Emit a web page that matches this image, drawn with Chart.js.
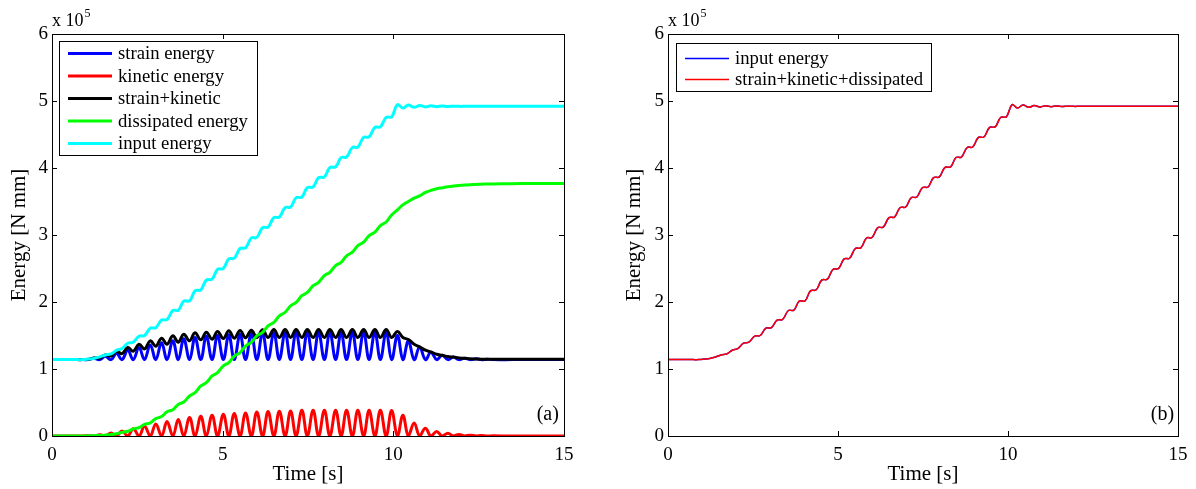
<!DOCTYPE html>
<html>
<head>
<meta charset="utf-8">
<script src="https://cdn.jsdelivr.net/npm/chart.js@4.4.1/dist/chart.umd.min.js"></script>
<style>
  html, body { margin: 0; padding: 0; background: #fff; }
  #wrap { position: relative; width: 1196px; height: 489px; overflow: hidden; }
  canvas { position: absolute; top: 0; }
  #chartA { left: 0; }
  #chartB { left: 600px; }
</style>
</head>
<body>
<div id="wrap">
  <canvas id="chartA" width="600" height="489"></canvas>
  <canvas id="chartB" width="596" height="489"></canvas>
</div>
<script>
// time [s]
const time = [0, 0.25, 0.41, 0.57, 0.74, 0.90, 1.07, 1.23, 1.40, 1.56,
  1.73, 1.89, 2.05, 2.22, 2.38, 2.55, 2.71, 2.88, 3.04, 3.21,
  3.37, 3.54, 3.70, 3.86, 4.03, 4.19, 4.36, 4.52, 4.69, 4.85,
  5.02, 5.18, 5.34, 5.51, 5.67, 5.84, 6.00, 6.17, 6.33, 6.50,
  6.66, 6.83, 6.99, 7.15, 7.32, 7.48, 7.65, 7.81, 7.98, 8.14,
  8.31, 8.47, 8.63, 8.80, 8.96, 9.13, 9.29, 9.46, 9.62, 9.79,
  9.95, 10.12, 10.28, 10.44, 10.61, 10.77, 10.94, 11.10, 11.27, 11.43,
  11.60, 11.76, 11.92, 12.09, 12.25, 12.42, 12.58, 12.75, 12.91, 13.5,
  14.0, 14.5, 15.0];

// energies, in units of 10^5 N mm
const strainEnergy = [1.14, 1.14, 1.14, 1.14, 1.14, 1.14, 1.14, 1.16, 1.14, 1.19,
  1.14, 1.235, 1.14, 1.28, 1.14, 1.32, 1.14, 1.36, 1.14, 1.39,
  1.14, 1.42, 1.14, 1.45, 1.14, 1.47, 1.14, 1.49, 1.14, 1.50,
  1.14, 1.51, 1.14, 1.52, 1.14, 1.53, 1.14, 1.535, 1.14, 1.54,
  1.14, 1.545, 1.14, 1.55, 1.14, 1.55, 1.14, 1.55, 1.14, 1.55,
  1.14, 1.55, 1.14, 1.55, 1.14, 1.55, 1.14, 1.55, 1.14, 1.55,
  1.14, 1.50, 1.14, 1.42, 1.14, 1.33, 1.14, 1.25, 1.14, 1.205,
  1.14, 1.178, 1.14, 1.162, 1.14, 1.153, 1.14, 1.147, 1.14, 1.14,
  1.14, 1.14, 1.14];

const kineticEnergy = [0, 0, 0, 0, 0, 0, 0.005, 0, 0.02, 0,
  0.045, 0, 0.075, 0, 0.11, 0, 0.145, 0, 0.18, 0,
  0.215, 0, 0.245, 0, 0.275, 0, 0.295, 0, 0.31, 0,
  0.325, 0, 0.335, 0, 0.345, 0, 0.36, 0, 0.365, 0,
  0.37, 0, 0.375, 0, 0.385, 0, 0.385, 0, 0.385, 0,
  0.385, 0, 0.385, 0, 0.385, 0, 0.385, 0, 0.385, 0,
  0.38, 0, 0.31, 0, 0.195, 0, 0.115, 0, 0.068, 0,
  0.042, 0, 0.024, 0, 0.013, 0, 0.007, 0, 0.003, 0,
  0, 0, 0];

const strainKinetic = [1.14, 1.14, 1.14, 1.14, 1.14, 1.14, 1.145, 1.165, 1.165, 1.21,
  1.195, 1.265, 1.23, 1.32, 1.265, 1.37, 1.30, 1.42, 1.34, 1.46,
  1.37, 1.495, 1.40, 1.52, 1.42, 1.54, 1.435, 1.55, 1.445, 1.56,
  1.455, 1.57, 1.46, 1.575, 1.465, 1.58, 1.47, 1.585, 1.47, 1.59,
  1.47, 1.59, 1.47, 1.59, 1.47, 1.59, 1.47, 1.59, 1.47, 1.59,
  1.47, 1.59, 1.47, 1.59, 1.47, 1.59, 1.47, 1.59, 1.47, 1.59,
  1.47, 1.56, 1.47, 1.44, 1.37, 1.33, 1.28, 1.255, 1.22, 1.205,
  1.185, 1.178, 1.165, 1.16, 1.153, 1.15, 1.147, 1.146, 1.145, 1.145,
  1.145, 1.145, 1.145];

const dissipatedEnergy = [0, 0, 0, 0, 0, 0, 0.002, 0.005, 0.008, 0.014,
  0.022, 0.034, 0.054, 0.071, 0.106, 0.124, 0.173, 0.197, 0.26, 0.29,
  0.362, 0.393, 0.472, 0.508, 0.597, 0.646, 0.747, 0.796, 0.897, 0.946,
  1.047, 1.096, 1.193, 1.246, 1.343, 1.397, 1.493, 1.547, 1.644, 1.697,
  1.794, 1.847, 1.944, 1.993, 2.094, 2.143, 2.244, 2.293, 2.394, 2.443,
  2.544, 2.593, 2.69, 2.743, 2.84, 2.894, 2.99, 3.044, 3.14, 3.194,
  3.30, 3.375, 3.45, 3.50, 3.55, 3.585, 3.635, 3.665, 3.69, 3.705,
  3.72, 3.73, 3.738, 3.745, 3.75, 3.754, 3.758, 3.761, 3.763, 3.766,
  3.768, 3.77, 3.77];

const inputEnergy = [1.14, 1.14, 1.14, 1.14, 1.14, 1.14, 1.148, 1.158, 1.18, 1.21,
  1.225, 1.28, 1.305, 1.385, 1.40, 1.49, 1.50, 1.61, 1.617, 1.73,
  1.738, 1.873, 1.877, 2.013, 2.017, 2.166, 2.182, 2.326, 2.342, 2.486,
  2.502, 2.644, 2.653, 2.799, 2.808, 2.955, 2.963, 3.11, 3.117, 3.26,
  3.267, 3.41, 3.417, 3.556, 3.567, 3.706, 3.717, 3.856, 3.867, 4.006,
  4.017, 4.156, 4.163, 4.306, 4.313, 4.457, 4.463, 4.607, 4.613, 4.757,
  4.763, 4.945, 4.895, 4.94, 4.905, 4.932, 4.912, 4.928, 4.916, 4.925,
  4.918, 4.923, 4.92, 4.92, 4.92, 4.92, 4.92, 4.92, 4.92, 4.92,
  4.92, 4.92, 4.92];

// panel (b): the balance strain+kinetic+dissipated lies on the input curve
const balanceEnergy = inputEnergy;

const xTicks = [0, 5, 10, 15];
const yTicks = [0, 1, 2, 3, 4, 5, 6];

const SERIF = '"Liberation Serif", "Times New Roman", serif';

const pts = arr => time.map((t, i) => ({ x: t, y: arr[i] }));

// matlab style box, inner ticks, labels, legend
function matlabFrame(cfg) {
  return {
    id: 'matlabFrame',
    afterDraw(chart) {
      const { ctx, chartArea: a, scales } = chart;
      const x = scales.x, y = scales.y;
      ctx.save();
      ctx.strokeStyle = '#000';
      ctx.lineWidth = 1;
      ctx.strokeRect(Math.round(a.left) + 0.5, Math.round(a.top) + 0.5,
        Math.round(a.right - a.left), Math.round(a.bottom - a.top));
      ctx.beginPath();
      xTicks.forEach(v => {
        const px = Math.round(x.getPixelForValue(v)) + 0.5;
        ctx.moveTo(px, a.bottom); ctx.lineTo(px, a.bottom - 5);
        ctx.moveTo(px, a.top); ctx.lineTo(px, a.top + 5);
      });
      yTicks.forEach(v => {
        const py = Math.round(y.getPixelForValue(v)) + 0.5;
        ctx.moveTo(a.left, py); ctx.lineTo(a.left + 5, py);
        ctx.moveTo(a.right, py); ctx.lineTo(a.right - 5, py);
      });
      ctx.stroke();

      ctx.fillStyle = '#000';
      // exponent
      ctx.textAlign = 'left';
      ctx.textBaseline = 'alphabetic';
      ctx.font = '18px ' + SERIF;
      ctx.fillText('x 10', a.left, 26);
      const w = ctx.measureText('x 10').width;
      ctx.font = '12px ' + SERIF;
      ctx.fillText('5', a.left + w + 1, 17);

      // axis titles
      ctx.font = '21px ' + SERIF;
      ctx.textAlign = 'center';
      ctx.textBaseline = 'middle';
      ctx.fillText('Time [s]', (a.left + a.right) / 2, 474);
      ctx.save();
      ctx.translate(cfg.yTitleX, (a.top + a.bottom) / 2);
      ctx.rotate(-Math.PI / 2);
      ctx.fillText('Energy [N mm]', 0, 0);
      ctx.restore();

      // panel tag
      ctx.font = '20px ' + SERIF;
      ctx.textAlign = 'left';
      ctx.fillText(cfg.tag, x.getPixelForValue(14.2), 415);

      // legend
      const L = cfg.legend;
      ctx.fillStyle = '#fff';
      ctx.fillRect(L.x, L.y, L.w, L.h);
      ctx.strokeStyle = '#000';
      ctx.lineWidth = 1;
      ctx.strokeRect(L.x + 0.5, L.y + 0.5, L.w, L.h);
      ctx.font = '18.7px ' + SERIF;
      ctx.textBaseline = 'middle';
      chart.data.datasets.forEach((d, i) => {
        const yy = L.row0 + i * L.rowH;
        ctx.strokeStyle = d.borderColor;
        ctx.lineWidth = d.borderWidth;
        ctx.beginPath();
        ctx.moveTo(L.x + 9, yy); ctx.lineTo(L.x + 53, yy);
        ctx.stroke();
        ctx.fillStyle = '#000';
        ctx.fillText(d.label, L.x + 59, yy + 1);
      });
      ctx.restore();
    }
  };
}

function makeChart(id, datasets, yWidth, padRight, cfg) {
  return new Chart(document.getElementById(id), {
    type: 'line',
    data: { datasets },
    options: {
      responsive: false,
      animation: false,
      devicePixelRatio: 1,
      layout: { padding: { left: 0, top: 34, right: padRight, bottom: 0 } },
      plugins: { legend: { display: false }, tooltip: { enabled: false } },
      elements: { point: { radius: 0 }, line: { tension: 0.4 } },
      scales: {
        x: {
          type: 'linear', min: 0, max: 15,
          afterBuildTicks: s => { s.ticks = xTicks.map(v => ({ value: v })); },
          grid: { display: false, drawTicks: false },
          border: { display: false },
          ticks: { color: '#000', font: { family: SERIF, size: 19 }, padding: 8, maxRotation: 0, autoSkip: false },
          afterFit: s => { s.height = 53; s.paddingLeft = 0; s.paddingRight = 0; }
        },
        y: {
          type: 'linear', min: 0, max: 6,
          afterBuildTicks: s => { s.ticks = yTicks.map(v => ({ value: v })); },
          grid: { display: false, drawTicks: false },
          border: { display: false },
          ticks: { color: '#000', font: { family: SERIF, size: 19 }, padding: 4, autoSkip: false },
          afterFit: s => { s.width = yWidth; s.paddingTop = 0; s.paddingBottom = 0; }
        }
      }
    },
    plugins: [matlabFrame(cfg)]
  });
}

const lineA = (label, arr, color, order) => ({
  label, data: pts(arr), borderColor: color, borderWidth: 3, fill: false, order
});

makeChart('chartA', [
  lineA('strain energy', strainEnergy, '#0000ff', 5),
  lineA('kinetic energy', kineticEnergy, '#ff0000', 4),
  lineA('strain+kinetic', strainKinetic, '#000000', 3),
  lineA('dissipated energy', dissipatedEnergy, '#00ff00', 2),
  lineA('input energy', inputEnergy, '#00ffff', 1)
], 52, 36, {
  tag: '(a)', yTitleX: 19,
  legend: { x: 59, y: 41, w: 198, h: 114, row0: 53.5, rowH: 22.5 }
});

makeChart('chartB', [
  { label: 'input energy', data: pts(inputEnergy), borderColor: '#0000ff', borderWidth: 1.5, fill: false, order: 2 },
  { label: 'strain+kinetic+dissipated', data: pts(balanceEnergy), borderColor: '#ff0000', borderWidth: 1.5, fill: false, order: 1 }
], 68, 18, {
  tag: '(b)', yTitleX: 34,
  legend: { x: 76, y: 43, w: 255, h: 48, row0: 58.5, rowH: 21 }
});
</script>
</body>
</html>
